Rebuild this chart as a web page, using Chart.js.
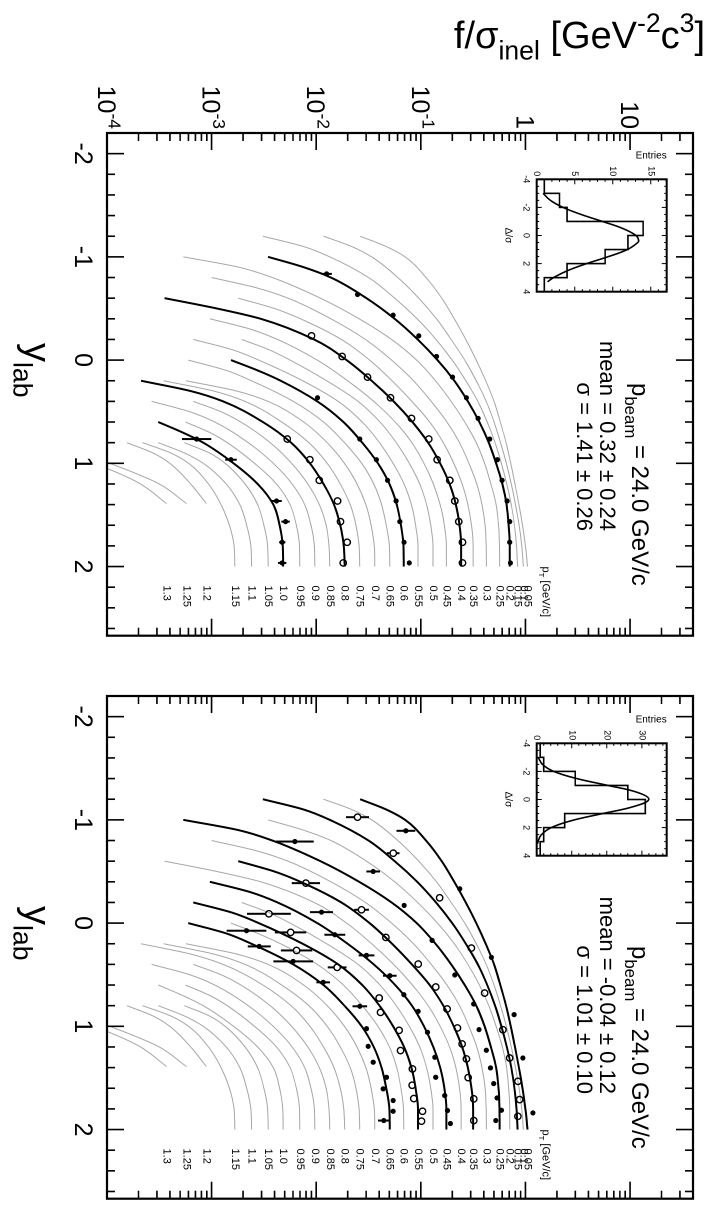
<!DOCTYPE html>
<html>
<head>
<meta charset="utf-8">
<title>f/sigma_inel vs y_lab, p_beam = 24.0 GeV/c</title>
<script src="https://cdn.jsdelivr.net/npm/chart.js@4.4.1/dist/chart.umd.min.js"></script>
<style>
  html, body { margin: 0; padding: 0; background: #fff; }
  #page { position: relative; width: 714px; height: 1226px; overflow: hidden; background: #fff; }
  /* the figure is drawn upright (1226 x 714) and turned a quarter clockwise */
  #figure { position: absolute; left: 0; top: 0; width: 1226px; height: 714px;
            transform-origin: 0 0; transform: translate(714px, 0) rotate(90deg); }
  #figure canvas { position: absolute; }
</style>
</head>
<body>
<div id="page">
  <div id="figure">
    <canvas id="panelLeft" width="660" height="714" style="left:0;top:0"></canvas>
    <canvas id="panelRight" width="566" height="714" style="left:660px;top:0"></canvas>
    <canvas id="insetLeft" width="165" height="180" style="left:135px;top:35px"></canvas>
    <canvas id="insetRight" width="165" height="180" style="left:699px;top:35px"></canvas>
  </div>
</div>
<script>
const FONT = '"Liberation Sans", Arial, Helvetica, sans-serif';

// ---- axes ----
const yLabMin = -2.2;
const yLabMax = 2.67;
const fMin = 1e-4;
const fMax = 40;
const yLabTickValues = [-2, -1, 0, 1, 2];
const yLabTickLabels = ['-2', '-1', '0', '1', '2'];
const fTickValues = [1e-4, 1e-3, 1e-2, 1e-1, 1, 10];
const fTickLabels = [['10', '-4'], ['10', '-3'], ['10', '-2'], ['10', '-1'], ['1', ''], ['10', '']];

// ---- model curves, one per pT: [y_lab, log10(f/sigma_inel)] ----
const modelPt = ['0.05', '0.1', '0.15', '0.2', '0.25', '0.3', '0.35', '0.4', '0.45', '0.5', '0.55', '0.6', '0.65',
  '0.7', '0.75', '0.8', '0.85', '0.9', '0.95', '1.0', '1.05', '1.1', '1.15', '1.2', '1.25', '1.3'];
const modelLogF = [
  [[-1.2,-1.58],[-1.1,-1.33],[-1.0,-1.15],[-0.8,-0.95],[-0.6,-0.80],[-0.4,-0.68],[-0.2,-0.57],[0,-0.47],[0.2,-0.38],[0.4,-0.30],[0.6,-0.24],[0.8,-0.185],[1.0,-0.14],[1.2,-0.10],[1.4,-0.062],[1.6,-0.028],[1.8,0.0],[2.0,0.02]],
  [[-1.2,-1.93],[-1.1,-1.66],[-1.0,-1.47],[-0.8,-1.22],[-0.6,-1.02],[-0.4,-0.85],[-0.2,-0.71],[0,-0.58],[0.2,-0.47],[0.4,-0.375],[0.6,-0.30],[0.8,-0.238],[1.0,-0.182],[1.2,-0.135],[1.4,-0.095],[1.6,-0.06],[1.8,-0.035],[2.0,-0.02]],
  [[-1.2,-2.51],[-1.1,-2.12],[-1.0,-1.87],[-0.8,-1.50],[-0.6,-1.25],[-0.4,-1.035],[-0.2,-0.855],[0,-0.70],[0.2,-0.57],[0.4,-0.455],[0.6,-0.365],[0.8,-0.29],[1.0,-0.23],[1.2,-0.178],[1.4,-0.135],[1.6,-0.105],[1.8,-0.085],[2.0,-0.075]],
  [[-1.0,-2.46],[-0.9,-2.12],[-0.8,-1.86],[-0.6,-1.52],[-0.4,-1.25],[-0.2,-1.03],[0,-0.84],[0.2,-0.68],[0.4,-0.55],[0.6,-0.44],[0.8,-0.35],[1.0,-0.28],[1.2,-0.22],[1.4,-0.18],[1.6,-0.16],[1.8,-0.15],[2.0,-0.15]],
  [[-1.0,-3.27],[-0.9,-2.74],[-0.8,-2.42],[-0.6,-1.96],[-0.4,-1.59],[-0.2,-1.28],[0,-1.04],[0.2,-0.86],[0.4,-0.71],[0.6,-0.58],[0.8,-0.47],[1.0,-0.39],[1.2,-0.33],[1.4,-0.28],[1.6,-0.257],[1.8,-0.248],[2.0,-0.246]],
  [[-0.8,-3.0],[-0.7,-2.57],[-0.6,-2.27],[-0.4,-1.86],[-0.2,-1.53],[0,-1.28],[0.2,-1.07],[0.4,-0.90],[0.6,-0.75],[0.8,-0.63],[1.0,-0.54],[1.2,-0.465],[1.4,-0.415],[1.6,-0.385],[1.8,-0.375],[2.0,-0.373]],
  [[-0.6,-2.745],[-0.5,-2.40],[-0.4,-2.15],[-0.2,-1.76],[0,-1.49],[0.2,-1.275],[0.4,-1.085],[0.6,-0.915],[0.8,-0.785],[1.0,-0.685],[1.2,-0.605],[1.4,-0.55],[1.6,-0.515],[1.8,-0.50],[2.0,-0.50]],
  [[-0.6,-3.45],[-0.5,-2.95],[-0.4,-2.53],[-0.2,-2.02],[0,-1.71],[0.2,-1.47],[0.4,-1.26],[0.6,-1.08],[0.8,-0.93],[1.0,-0.815],[1.2,-0.725],[1.4,-0.665],[1.6,-0.63],[1.8,-0.615],[2.0,-0.615]],
  [[-0.4,-3.016],[-0.3,-2.63],[-0.2,-2.37],[0,-1.99],[0.2,-1.70],[0.4,-1.45],[0.6,-1.245],[0.8,-1.085],[1.0,-0.97],[1.2,-0.88],[1.4,-0.815],[1.6,-0.775],[1.8,-0.756],[2.0,-0.756]],
  [[-0.2,-2.713],[-0.1,-2.45],[0,-2.25],[0.2,-1.90],[0.4,-1.60],[0.6,-1.39],[0.8,-1.235],[1.0,-1.11],[1.2,-1.01],[1.4,-0.945],[1.6,-0.905],[1.8,-0.883],[2.0,-0.883]],
  [[-0.2,-3.175],[-0.1,-2.80],[0,-2.55],[0.2,-2.13],[0.4,-1.79],[0.6,-1.56],[0.8,-1.395],[1.0,-1.265],[1.2,-1.16],[1.4,-1.09],[1.6,-1.05],[1.8,-1.027],[2.0,-1.027]],
  [[0,-2.815],[0.1,-2.56],[0.2,-2.34],[0.4,-1.99],[0.6,-1.74],[0.8,-1.56],[1.0,-1.41],[1.2,-1.30],[1.4,-1.23],[1.6,-1.19],[1.8,-1.165],[2.0,-1.163]],
  [[0,-3.223],[0.1,-2.86],[0.2,-2.62],[0.4,-2.22],[0.6,-1.93],[0.8,-1.73],[1.0,-1.565],[1.2,-1.45],[1.4,-1.375],[1.6,-1.33],[1.8,-1.30],[2.0,-1.297]],
  [[0.2,-3.245],[0.3,-2.76],[0.4,-2.46],[0.6,-2.12],[0.8,-1.895],[1.0,-1.73],[1.2,-1.61],[1.4,-1.525],[1.6,-1.475],[1.8,-1.445],[2.0,-1.44]],
  [[0.2,-3.46],[0.3,-2.98],[0.4,-2.68],[0.6,-2.33],[0.8,-2.07],[1.0,-1.895],[1.2,-1.77],[1.4,-1.675],[1.6,-1.62],[1.8,-1.59],[2.0,-1.584]],
  [[0.2,-3.675],[0.3,-3.2],[0.4,-2.89],[0.6,-2.51],[0.8,-2.24],[1.0,-2.06],[1.2,-1.93],[1.4,-1.83],[1.6,-1.77],[1.8,-1.737],[2.0,-1.727]],
  [[0.4,-3.175],[0.5,-2.91],[0.6,-2.72],[0.8,-2.44],[1.0,-2.235],[1.2,-2.08],[1.4,-1.97],[1.6,-1.905],[1.8,-1.878],[2.0,-1.87]],
  [[0.4,-3.573],[0.5,-3.21],[0.6,-2.97],[0.8,-2.65],[1.0,-2.41],[1.2,-2.23],[1.4,-2.11],[1.6,-2.05],[1.8,-2.018],[2.0,-2.013]],
  [[0.6,-3.25],[0.7,-3.02],[0.8,-2.85],[1.0,-2.59],[1.2,-2.38],[1.4,-2.25],[1.6,-2.19],[1.8,-2.16],[2.0,-2.157]],
  [[0.6,-3.51],[0.7,-3.28],[0.8,-3.08],[1.0,-2.79],[1.2,-2.56],[1.4,-2.41],[1.6,-2.35],[1.8,-2.32],[2.0,-2.316]],
  [[0.8,-3.26],[0.9,-3.02],[1.0,-2.87],[1.2,-2.68],[1.4,-2.56],[1.6,-2.50],[1.8,-2.465],[2.0,-2.459]],
  [[0.8,-3.51],[0.9,-3.26],[1.0,-3.08],[1.2,-2.86],[1.4,-2.73],[1.6,-2.665],[1.8,-2.625],[2.0,-2.618]],
  [[0.8,-3.66],[0.9,-3.39],[1.0,-3.22],[1.2,-3.03],[1.4,-2.91],[1.6,-2.83],[1.8,-2.785],[2.0,-2.777]],
  [[0.8,-3.81],[0.9,-3.56],[1.0,-3.40],[1.2,-3.20],[1.39,-3.05]],
  [[0.99,-4.0],[1.1,-3.72],[1.2,-3.50],[1.39,-3.24]],
  [[1.05,-4.0],[1.1,-3.88],[1.2,-3.68],[1.39,-3.43]]
];

// pT values drawn as black fits in each panel
const leftFitPt = ['0.2', '0.4', '0.6', '0.8', '1.0'];
const rightFitPt = ['0.05', '0.15', '0.25', '0.35', '0.45', '0.55', '0.65'];

// ---- measured points: [y_lab, log10(f/sigma_inel), error in log10] ----
const leftFilled = [
  [-0.835,-1.90,0.05],[-0.635,-1.605,0],[-0.435,-1.264,0],[-0.235,-1.019,0],[-0.035,-0.85,0],[0.165,-0.697,0],
  [0.365,-0.564,0],[0.565,-0.452,0],[0.765,-0.341,0],[0.965,-0.268,0],[1.165,-0.223,0],[1.365,-0.175,0],
  [1.565,-0.15,0],[1.765,-0.15,0],[1.965,-0.143,0],
  [0.365,-1.987,0],[0.765,-1.583,0],[0.965,-1.424,0],[1.165,-1.318,0],[1.365,-1.236,0],[1.565,-1.20,0],
  [1.765,-1.16,0],[1.965,-1.11,0],
  [0.765,-3.143,0.14],[0.965,-2.815,0.055],[1.365,-2.379,0.05],[1.565,-2.293,0.04],[1.765,-2.325,0.03],[1.965,-2.325,0.04]
];
const leftOpen = [
  [-0.235,-2.045,0],[-0.035,-1.752,0],[0.165,-1.51,0],[0.365,-1.29,0],[0.565,-1.089,0],[0.765,-0.924,0],
  [0.965,-0.844,0],[1.165,-0.723,0],[1.365,-0.675,0],[1.565,-0.637,0],[1.765,-0.602,0],[1.965,-0.602,0],
  [0.765,-2.277,0],[0.965,-2.061,0],[1.165,-1.971,0],[1.365,-1.796,0],[1.565,-1.768,0],[1.765,-1.704,0],[1.965,-1.742,0]
];
const rightFilled = [
  [-0.894,-1.143,0.09],[-0.332,-0.627,0],[0.332,-0.325,0],[0.887,-0.108,0],[1.307,-0.024,0],[1.839,0.072,0],
  [-0.79,-2.204,0.18],[-0.5,-1.455,0.065],[-0.171,-1.159,0],[0.168,-0.892,0],[0.503,-0.675,0],[0.784,-0.494,0],
  [1.032,-0.443,0],[1.232,-0.373,0],[1.403,-0.334,0],[1.555,-0.303,0],[1.694,-0.271,0],[1.813,-0.229,0],[1.913,-0.283,0],
  [-0.106,-1.949,0.11],[0.113,-1.822,0.10],[0.313,-1.519,0.075],[0.51,-1.296,0.065],[0.694,-1.162,0],[0.855,-1.025,0],
  [1.058,-0.936,0],[1.30,-0.866,0],[1.494,-0.857,0],[1.671,-0.771,0],[1.816,-0.745,0],[1.942,-0.717,0],
  [0.074,-2.666,0.19],[0.226,-2.545,0.11],[0.371,-2.22,0.19],[0.574,-1.933,0.065],[0.806,-1.583,0.07],[1.023,-1.519,0],
  [1.194,-1.503,0],[1.348,-1.455,0],[1.494,-1.328,0],[1.606,-1.36,0],[1.719,-1.264,0],[1.823,-1.264,0],[1.913,-1.354,0.055]
];
const rightOpen = [
  [-1.026,-1.605,0.11],[-0.677,-1.264,0.06],[-0.245,-0.82,0],[0.242,-0.517,0],[0.678,-0.39,0],[1.033,-0.215,0],
  [1.307,-0.151,0],[1.533,-0.072,0],[1.71,-0.055,0],[1.872,-0.072,0],
  [-0.387,-2.099,0.135],[-0.129,-1.567,0.07],[0.139,-1.334,0],[0.397,-1.025,0],[0.619,-0.857,0],[0.832,-0.749,0],
  [1.016,-0.65,0],[1.171,-0.605,0],[1.316,-0.564,0],[1.497,-0.548,0],[1.703,-0.494,0],[1.913,-0.494,0],
  [-0.09,-2.452,0.21],[0.09,-2.245,0.15],[0.265,-2.188,0.15],[0.429,-1.80,0.09],[0.726,-1.398,0],[0.865,-1.385,0],
  [1.039,-1.207,0],[1.235,-1.194,0],[1.413,-1.08,0],[1.571,-1.083,0],[1.70,-1.067,0],[1.823,-0.984,0],[1.919,-0.994,0]
];

// ---- residual insets ----
const histEdges = [-4, -3, -2, -1, 0, 1, 2, 3, 4];
const leftHist = [1, 3, 4, 14, 12, 9, 4, 1];
const rightHist = [1, 2, 11, 26, 31, 8, 2, 1];
const leftGaussX = [-3.0, -2.5, -2.0, -1.5, -1.0, -0.5, 0, 0.32, 0.5, 1.0, 1.5, 2.0, 2.5, 3.0, 3.3];
const leftGaussY = [0.83, 1.81, 3.46, 5.83, 8.64, 11.32, 13.07, 13.4, 13.29, 11.93, 9.45, 6.57, 4.06, 2.2, 1.43];
const rightGaussX = [-3.0, -2.5, -2.0, -1.5, -1.0, -0.5, 0, 0.5, 1.0, 1.5, 2.0, 2.5, 3.0, 3.15];
const rightGaussY = [0.44, 1.63, 4.86, 11.26, 20.35, 28.8, 31.97, 27.7, 18.85, 10.0, 4.16, 1.36, 0.35, 0.25];
const leftInsetMax = 17.1;
const rightInsetMax = 37.1;
const leftInsetTicks = [0, 5, 10, 15];
const rightInsetTicks = [0, 10, 20, 30];
const insetXTicks = [-4, -2, 0, 2, 4];

// ---- texts ----
const beamText = [['p', 0], ['beam', 1], [' = 24.0 GeV/c', 0]];
const leftStats = [[['mean = 0.32 \u00b1 0.24', 0]], [['\u03c3 = 1.41 \u00b1 0.26', 0]]];
const rightStats = [[['mean = -0.04 \u00b1 0.12', 0]], [['\u03c3 = 1.01 \u00b1 0.10', 0]]];

// draws text made of normal (0), subscript (1) and superscript (2) pieces
function drawRich(ctx, segs, x, y, size, align, rot) {
  ctx.save();
  ctx.translate(x, y);
  if (rot) ctx.rotate(rot);
  const parts = segs.map(([t, m]) => {
    const s = m ? size * 0.7 : size;
    ctx.font = s + 'px ' + FONT;
    return { t, m, s, w: ctx.measureText(t).width };
  });
  const total = parts.reduce((a, p) => a + p.w, 0);
  let cx = align === 'right' ? -total : align === 'center' ? -total / 2 : 0;
  ctx.textAlign = 'left';
  ctx.textBaseline = 'alphabetic';
  parts.forEach((p) => {
    ctx.font = p.s + 'px ' + FONT;
    const dy = p.m === 1 ? size * 0.3 : p.m === 2 ? -size * 0.42 : 0;
    ctx.fillText(p.t, cx, dy);
    cx += p.w;
  });
  ctx.restore();
}

const errorBars = {
  id: 'errorBars',
  afterDatasetsDraw(chart) {
    const { ctx, chartArea: a, scales: { x, y } } = chart;
    ctx.save();
    ctx.beginPath();
    ctx.rect(a.left, a.top, a.right - a.left, a.bottom - a.top);
    ctx.clip();
    ctx.strokeStyle = '#000';
    ctx.lineWidth = 2;
    chart.data.datasets.forEach((ds) => {
      if (!ds.errs) return;
      const gap = ds.hollow ? ds.pointRadius : 0;
      ds.data.forEach((p, i) => {
        const e = ds.errs[i];
        if (!e) return;
        const px = x.getPixelForValue(p.x);
        const py = y.getPixelForValue(p.y);
        const hi = y.getPixelForValue(p.y * Math.pow(10, e));
        const lo = y.getPixelForValue(p.y / Math.pow(10, e));
        ctx.beginPath();
        ctx.moveTo(px, hi);
        ctx.lineTo(px, py - gap);
        ctx.moveTo(px, py + gap);
        ctx.lineTo(px, lo);
        ctx.stroke();
      });
    });
    ctx.restore();
  },
};

const rootAxes = {
  id: 'rootAxes',
  afterDraw(chart, args, opts) {
    const { ctx, chartArea: a, scales: { x, y } } = chart;
    ctx.save();
    ctx.strokeStyle = '#000';
    ctx.fillStyle = '#000';

    // inward ticks on all four sides
    ctx.lineWidth = 1.6;
    ctx.beginPath();
    for (let i = -11; i <= 13; i++) {
      const v = i / 5;
      if (v < x.min || v > x.max) continue;
      const px = x.getPixelForValue(v);
      const len = i % 5 === 0 ? 17 : 8;
      ctx.moveTo(px, a.bottom); ctx.lineTo(px, a.bottom - len);
      ctx.moveTo(px, a.top); ctx.lineTo(px, a.top + len);
    }
    for (let d = -4; d <= 1; d++) {
      for (let k = 1; k <= 9; k++) {
        const v = k * Math.pow(10, d);
        if (v < y.min * 0.999 || v > y.max * 1.001) continue;
        const py = y.getPixelForValue(v);
        const len = k === 1 ? 17 : 8;
        ctx.moveTo(a.left, py); ctx.lineTo(a.left + len, py);
        ctx.moveTo(a.right, py); ctx.lineTo(a.right - len, py);
      }
    }
    ctx.stroke();
    ctx.lineWidth = 2.2;
    ctx.strokeRect(a.left, a.top, a.right - a.left, a.bottom - a.top);

    // y_lab tick labels and title
    yLabTickValues.forEach((v, i) => {
      drawRich(ctx, [[yLabTickLabels[i], 0]], x.getPixelForValue(v), a.bottom + 32, 25, 'center');
    });
    drawRich(ctx, [['y', 0], ['lab', 1]], a.left + 210, 689, 38, 'left');

    // f/sigma axis (left panel only)
    if (opts.fAxis) {
      fTickValues.forEach((v, i) => {
        const [base, exp] = fTickLabels[i];
        const segs = exp ? [[base, 0], [exp, 2]] : [[base, 0]];
        drawRich(ctx, segs, a.left - 4, y.getPixelForValue(v) + 9, 25, 'right');
      });
      drawRich(ctx, [['f/\u03c3', 0], ['inel', 1], [' [GeV', 0], ['-2', 2], ['c', 0], ['3', 2], [']', 0]],
        48, 9, 38, 'right', -Math.PI / 2);
    }

    // pT labels at the end of each model curve
    const xEnd = x.getPixelForValue(2.0);
    ctx.font = '11px ' + FONT;
    ctx.textAlign = 'left';
    ctx.textBaseline = 'middle';
    modelPt.forEach((pt, i) => {
      const c = modelLogF[i];
      const py = y.getPixelForValue(Math.pow(10, c[c.length - 1][1]));
      ctx.fillText(pt, xEnd + 19, py);
    });
    const pTop = y.getPixelForValue(Math.pow(10, modelLogF[0][modelLogF[0].length - 1][1])) - 19;
    drawRich(ctx, [['p', 0], ['T', 1], [' [GeV/c]', 0]], xEnd, pTop + 4, 11, 'left');

    // beam momentum and residual statistics
    drawRich(ctx, beamText, a.left + 250, 82, 24, 'left');
    drawRich(ctx, opts.stats[0], a.left + 398, 114, 22, 'right');
    drawRich(ctx, opts.stats[1], a.left + 398, 137, 22, 'right');
    ctx.restore();
  },
};

const insetAxes = {
  id: 'insetAxes',
  afterDraw(chart, args, opts) {
    const { ctx, chartArea: a, scales: { x, y } } = chart;
    ctx.save();
    ctx.strokeStyle = '#000';
    ctx.fillStyle = '#000';
    ctx.lineWidth = 1;
    ctx.beginPath();
    for (let v = -4; v <= 4; v += 0.5) {
      const px = x.getPixelForValue(v);
      const len = v % 2 === 0 ? 5 : 2.5;
      ctx.moveTo(px, a.bottom); ctx.lineTo(px, a.bottom - len);
      ctx.moveTo(px, a.top); ctx.lineTo(px, a.top + len);
    }
    for (let v = 0; v <= y.max; v += opts.minorStep) {
      const py = y.getPixelForValue(v);
      const len = Math.abs(v / opts.majorStep - Math.round(v / opts.majorStep)) < 1e-6 ? 5 : 2.5;
      ctx.moveTo(a.left, py); ctx.lineTo(a.left + len, py);
      ctx.moveTo(a.right, py); ctx.lineTo(a.right - len, py);
    }
    ctx.stroke();
    ctx.lineWidth = 2;
    ctx.strokeRect(a.left, a.top, a.right - a.left, a.bottom - a.top);

    ctx.font = '9px ' + FONT;
    ctx.textAlign = 'center';
    ctx.textBaseline = 'alphabetic';
    insetXTicks.forEach((v) => ctx.fillText(String(v), x.getPixelForValue(v), a.bottom + 13));
    ctx.textAlign = 'right';
    ctx.textBaseline = 'middle';
    opts.yTicks.forEach((v) => ctx.fillText(String(v), a.left - 3, y.getPixelForValue(v)));
    drawRich(ctx, [['\u0394/\u03c3', 0]], (a.left + a.right) / 2, a.bottom + 31, 10, 'center');
    drawRich(ctx, [['Entries', 0]], a.left - 21, a.top, 10, 'right', -Math.PI / 2);
    ctx.restore();
  },
};

function toPoints(pairs) {
  return pairs.map((p) => ({ x: p[0], y: Math.pow(10, p[1]) }));
}

function panelDatasets(fitPt, filled, open) {
  const ds = [
    { label: 'filled', data: toPoints(filled), errs: filled.map((p) => p[2]), pointRadius: 2.6,
      pointBackgroundColor: '#000', pointBorderColor: '#000', pointBorderWidth: 0, order: 0 },
    { label: 'open', data: toPoints(open), errs: open.map((p) => p[2]), hollow: true, pointRadius: 3.2,
      pointBackgroundColor: 'rgba(0,0,0,0)', pointBorderColor: '#000', pointBorderWidth: 1.4, order: 0 },
  ];
  modelPt.forEach((pt, i) => {
    ds.push({ label: 'model ' + pt, data: toPoints(modelLogF[i]), showLine: true, borderColor: '#a6a6a6',
      borderWidth: 1, pointRadius: 0, cubicInterpolationMode: 'monotone', order: 2 });
    if (fitPt.includes(pt)) {
      ds.push({ label: 'fit ' + pt, data: toPoints(modelLogF[i]), showLine: true, borderColor: '#000',
        borderWidth: 2, pointRadius: 0, cubicInterpolationMode: 'monotone', order: 1 });
    }
  });
  return ds;
}

function makePanel(id, padding, fitPt, filled, open, stats, fAxis) {
  return new Chart(document.getElementById(id), {
    type: 'scatter',
    data: { datasets: panelDatasets(fitPt, filled, open) },
    options: {
      responsive: false,
      animation: false,
      devicePixelRatio: 2,
      events: [],
      layout: { padding },
      scales: {
        x: { type: 'linear', min: yLabMin, max: yLabMax, display: false },
        y: { type: 'logarithmic', min: fMin, max: fMax, display: false },
      },
      plugins: { legend: { display: false }, tooltip: { enabled: false }, rootAxes: { fAxis, stats } },
    },
    plugins: [errorBars, rootAxes],
  });
}

function makeInset(id, counts, gx, gy, yMax, yTicks, majorStep, minorStep) {
  const step = [{ x: histEdges[0], y: 0 }];
  counts.forEach((c, i) => step.push({ x: histEdges[i], y: c }));
  step.push({ x: histEdges[histEdges.length - 1], y: counts[counts.length - 1] });
  step.push({ x: histEdges[histEdges.length - 1], y: 0 });
  return new Chart(document.getElementById(id), {
    type: 'scatter',
    data: {
      datasets: [
        { label: 'residuals', data: step, showLine: true, stepped: 'before', borderColor: '#000',
          borderWidth: 1.6, pointRadius: 0 },
        { label: 'gauss', data: gx.map((v, i) => ({ x: v, y: gy[i] })), showLine: true, tension: 0.4,
          borderColor: '#000', borderWidth: 1.6, pointRadius: 0 },
      ],
    },
    options: {
      responsive: false,
      animation: false,
      devicePixelRatio: 2,
      events: [],
      layout: { padding: { left: 44.3, right: 8.3, top: 12.3, bottom: 37.7 } },
      scales: {
        x: { type: 'linear', min: -4, max: 4, display: false },
        y: { type: 'linear', min: 0, max: yMax, display: false },
      },
      plugins: { legend: { display: false }, tooltip: { enabled: false },
        insetAxes: { yTicks, majorStep, minorStep } },
    },
    plugins: [insetAxes],
  });
}

makePanel('panelLeft', { left: 133, right: 24.3, top: 21, bottom: 107 }, leftFitPt, leftFilled, leftOpen, leftStats, true);
makePanel('panelRight', { left: 36, right: 27.3, top: 21, bottom: 107 }, rightFitPt, rightFilled, rightOpen, rightStats, false);
makeInset('insetLeft', leftHist, leftGaussX, leftGaussY, leftInsetMax, leftInsetTicks, 5, 1);
makeInset('insetRight', rightHist, rightGaussX, rightGaussY, rightInsetMax, rightInsetTicks, 10, 2);
</script>
</body>
</html>
